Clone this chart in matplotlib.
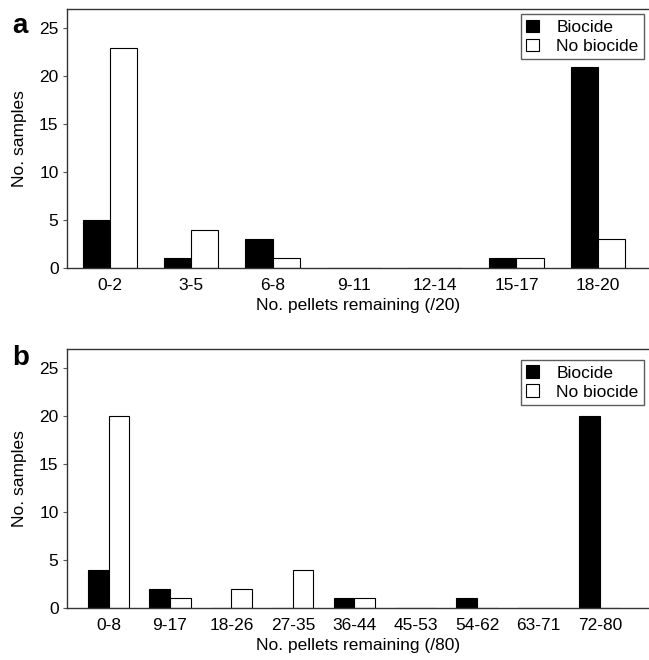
import numpy as np
import matplotlib
matplotlib.use("Agg")
import matplotlib.pyplot as plt

plt.rcParams["font.family"] = ["Liberation Sans", "DejaVu Sans"]

# Panel a: pellets remaining out of 20
cats_a = ["0-2", "3-5", "6-8", "9-11", "12-14", "15-17", "18-20"]
biocide_a = [5, 1, 3, 0, 0, 1, 21]
nobiocide_a = [23, 4, 1, 0, 0, 1, 3]

# Panel b: pellets remaining out of 80
cats_b = ["0-8", "9-17", "18-26", "27-35", "36-44", "45-53", "54-62", "63-71", "72-80"]
biocide_b = [4, 2, 0, 0, 1, 0, 1, 0, 20]
nobiocide_b = [20, 1, 2, 4, 1, 0, 0, 0, 0]

fig = plt.figure(figsize=(6.49, 6.60), dpi=100)
ax_a = fig.add_axes([0.103, 0.594, 0.897, 0.392])
ax_b = fig.add_axes([0.103, 0.079, 0.897, 0.392])


def draw_panel(ax, cats, bio, nobio, xlabel, xl, leg_top):
    x = np.arange(len(cats))
    w = 0.335
    ax.bar(x - w / 2, bio, w, color="black", edgecolor="black", linewidth=0.8, label="Biocide")
    ax.bar(x + w / 2, nobio, w, color="white", edgecolor="black", linewidth=0.8, label="No biocide")
    ax.set_xticks(x)
    ax.set_xticklabels(cats)
    ax.set_xlim(xl)
    ax.set_ylim(0, 27)
    ax.set_yticks([0, 5, 10, 15, 20, 25])
    ax.tick_params(axis="x", length=0, labelsize=12.5, pad=7)
    ax.tick_params(axis="y", length=3, width=0.8, color="#555555", labelsize=12.5, pad=3)
    ax.spines["right"].set_visible(False)
    for s in ["left", "bottom", "top"]:
        ax.spines[s].set_color("#333333")
        ax.spines[s].set_linewidth(1.0)
    ax.set_xlabel(xlabel, fontsize=12.5, labelpad=4)
    ax.set_ylabel("No. samples", fontsize=12.5, labelpad=9)
    leg = ax.legend(loc="upper right", bbox_to_anchor=(0.991, leg_top), fontsize=12.5,
                    frameon=True, fancybox=False, edgecolor="#333333",
                    handlelength=0.75, handleheight=0.75, handletextpad=1.0,
                    borderpad=0.3, labelspacing=0.2, borderaxespad=0.0)
    leg.get_frame().set_linewidth(1.0)


draw_panel(ax_a, cats_a, biocide_a, nobiocide_a, "No. pellets remaining (/20)", (-0.53, 6.63), 0.98)
draw_panel(ax_b, cats_b, biocide_b, nobiocide_b, "No. pellets remaining (/80)", (-0.68, 8.8), 0.957)

fig.text(12 / 649, 1 - 33 / 660, "a", fontsize=20, fontweight="bold", ha="left", va="baseline")
fig.text(12 / 649, 1 - 365 / 660, "b", fontsize=20, fontweight="bold", ha="left", va="baseline")

fig.savefig("out.png", dpi=100)
